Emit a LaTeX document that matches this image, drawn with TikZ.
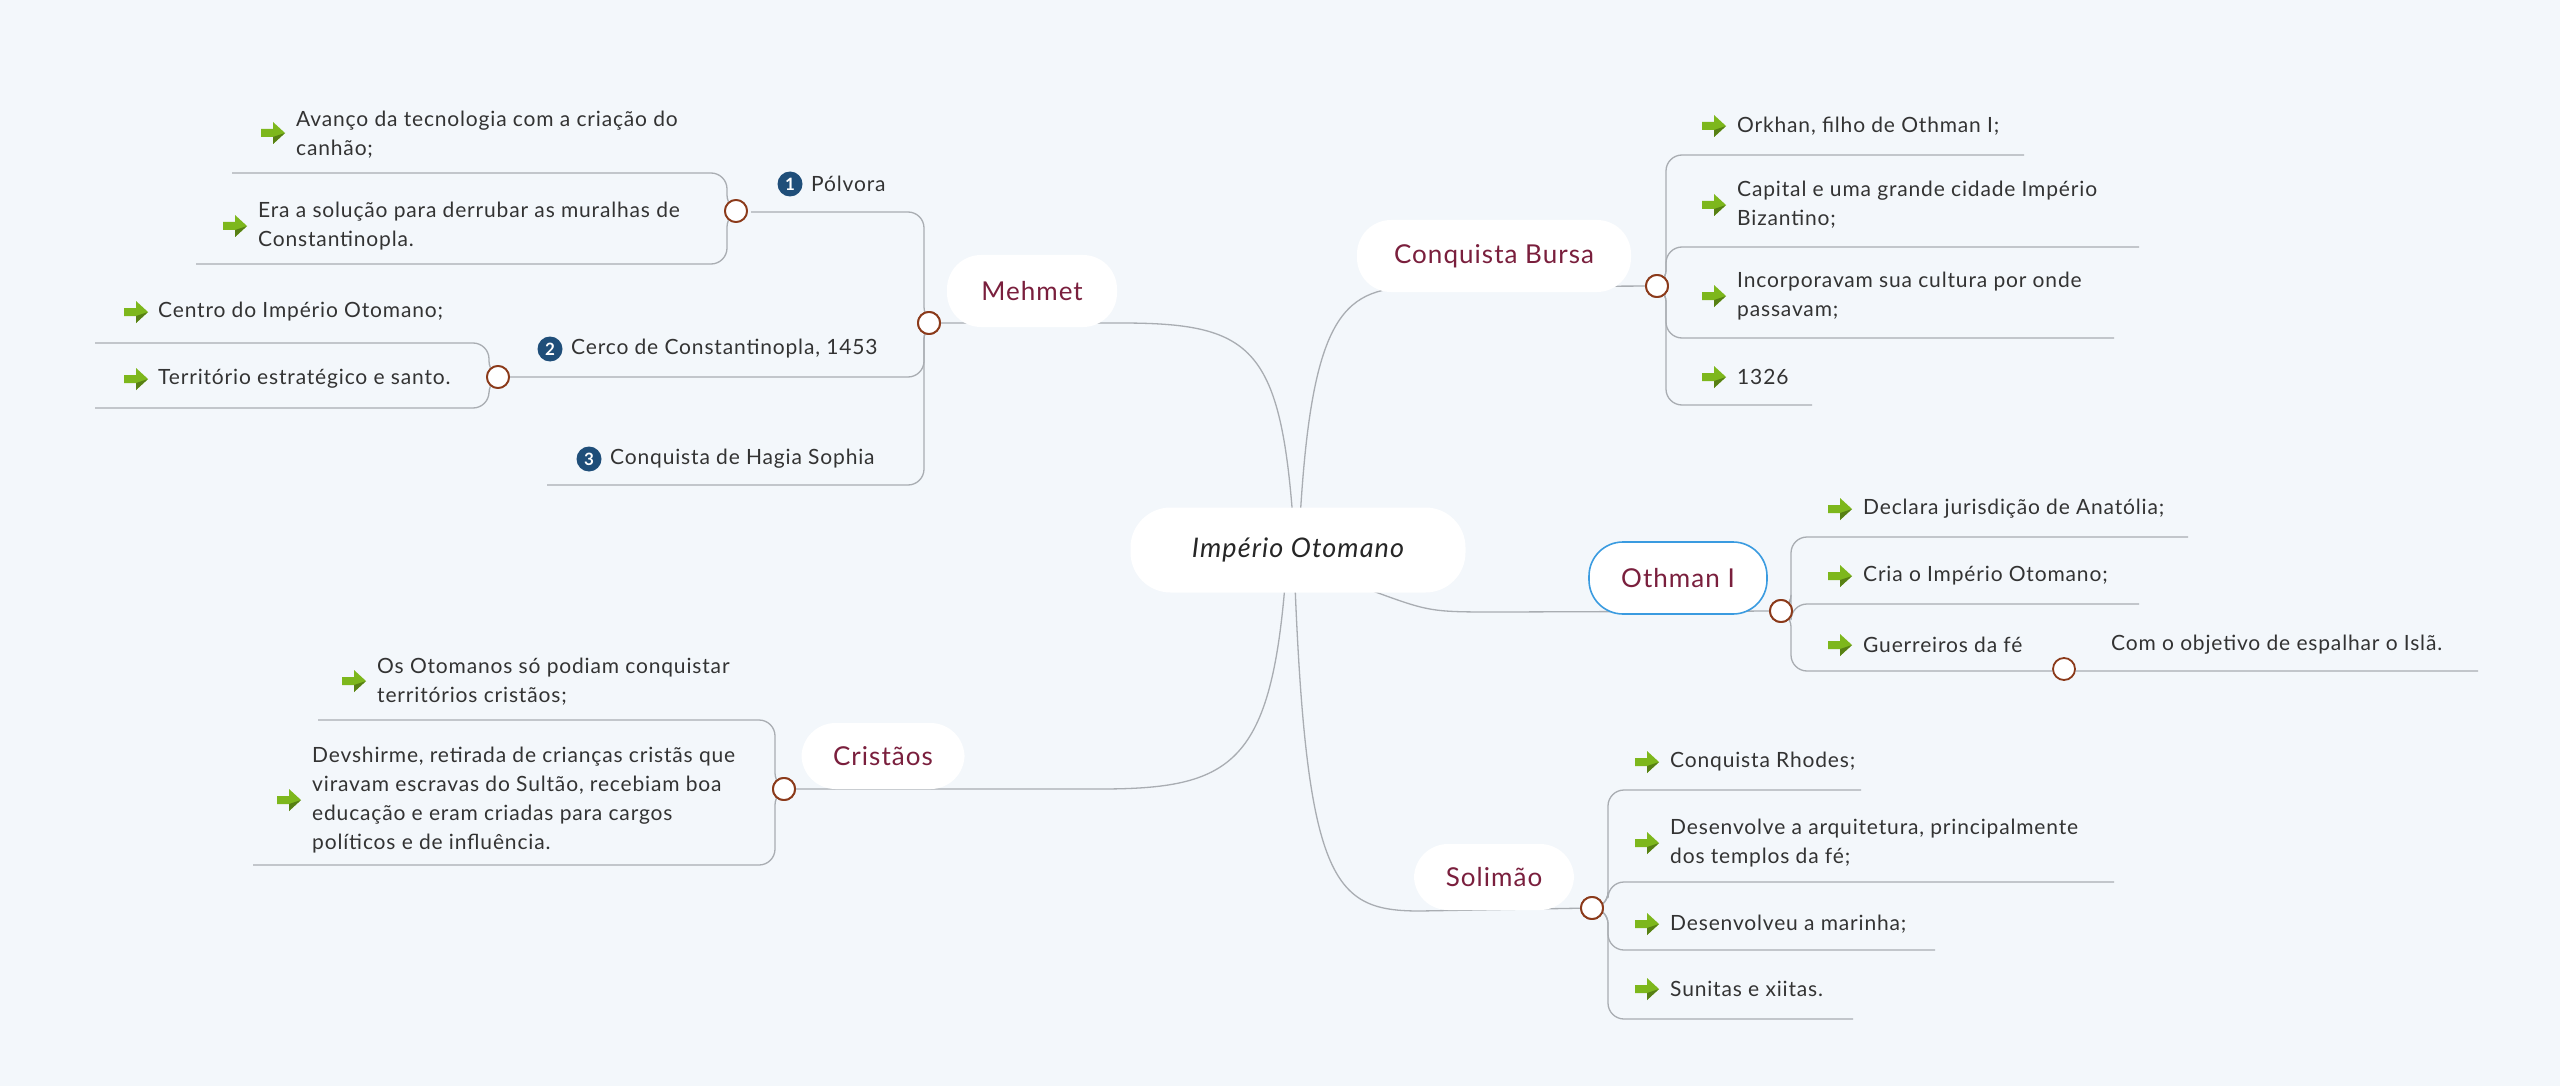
\documentclass[tikz,border=0pt]{standalone}
\usepackage{fontspec}
\setmainfont[LetterSpace=4]{Lato}
\definecolor{bg}{HTML}{F3F7FB}
\definecolor{ttl}{HTML}{7A1F3D}
\definecolor{txt}{HTML}{333333}
\definecolor{ln}{HTML}{A9ADB2}
\definecolor{circ}{HTML}{8B3A1A}
\definecolor{navy}{HTML}{1F4E79}
\definecolor{grn}{HTML}{7DB71C}
\definecolor{blu}{HTML}{3A9BE0}
\begin{document}
\begin{tikzpicture}[x=1pt,y=-1pt,
 box/.style={fill=white,rounded corners=34pt,minimum height=72pt,text=ttl,font=\fontsize{26}{30}\selectfont},
 leaf/.style={anchor=west,align=left,text=txt,font=\fontsize{21}{29}\selectfont,inner sep=0pt},
 knob/.style={circle,draw=circ,line width=1.8pt,fill=white,minimum size=22pt,inner sep=0pt},
 badge/.style={circle,fill=navy,text=white,minimum size=25pt,inner sep=0pt,font=\fontsize{17}{17}\selectfont\bfseries},
 br/.style={draw=ln,line width=1.3pt,rounded corners=16pt},
 cn/.style={draw=ln,line width=1.3pt},
 garrow/.pic={\fill[grn] (-12,-4) -- (0,-4) -- (0,-11) -- (12,0) -- (0,11) -- (0,4) -- (-12,4) -- cycle;
   \fill[grn!70!black] (0,4) -- (12,0) -- (0,11) -- cycle;}]
\fill[bg] (0,0) rectangle (2560,1086);
\useasboundingbox (0,0) rectangle (2560,1086);

% main connectors
\coordinate (mc0) at (1120,323);
\coordinate (cc0) at (1100,789);
\coordinate (bc0) at (1420,287);
\coordinate (oc0) at (1500,612);
\coordinate (sc0) at (1420,911);
\node[knob] (mk) at (929,323) {};
\node[knob] (ck) at (784,789) {};
\node[knob] (bk) at (1657,286) {};
\node[knob] (ok) at (1781,611) {};
\node[knob] (sk) at (1592,908) {};
\draw[cn] (1293,520) .. controls (1280,345) and (1250,323) .. (mc0) -- (mk);
\draw[cn] (1285,585) .. controls (1270,765) and (1230,789) .. (cc0) -- (ck);
\draw[cn] (1300,520) .. controls (1312,310) and (1345,287) .. (bc0) -- (bk);
\draw[cn] (1370,590) .. controls (1430,612) .. (oc0) -- (ok);
\draw[cn] (1295,585) .. controls (1307,885) and (1335,911) .. (sc0) -- (sk);

% Mehmet tree
\draw[br] (mk.center) -- (924,323) -- (924,212) -- (751,212);
\draw[br] (mk.center) -- (924,323) -- (924,377) -- (498,377);
\draw[br] (mk.center) -- (924,323) -- (924,485) -- (547,485);
\node[knob] (pk) at (736,211) {};
\draw[br] (pk.center) -- (727,211) -- (727,173) -- (232,173);
\draw[br] (pk.center) -- (727,211) -- (727,264) -- (196,264);
\node[knob] (ek) at (498,377) {};
\draw[br] (ek.center) -- (489,377) -- (489,343) -- (95,343);
\draw[br] (ek.center) -- (489,377) -- (489,408) -- (95,408);
\foreach \k in {mk,pk,ek} \node[knob] at (\k) {};
\node[badge] (b1) at (790,184) {1};
\node[leaf] (pol) at (811,184) {Pólvora};
\node[badge] (b2) at (550,349) {2};
\node[leaf] (cer) at (571,349) {Cerco de Constantinopla, 1453};
\node[badge] (b3) at (589,459) {3};
\node[leaf] (hag) at (610,459) {Conquista de Hagia Sophia};
\pic at (273,133) {garrow};
\node[leaf] (av) at (296,135) {Avanço da tecnologia com a criação do\\canhão;};
\pic at (235,226) {garrow};
\node[leaf] (era) at (258,226) {Era a solução para derrubar as muralhas de\\Constantinopla.};
\pic at (136,312) {garrow};
\node[leaf] (cen1) at (158,312) {Centro do Império Otomano;};
\pic at (136,379) {garrow};
\node[leaf] (ter) at (158,379) {Território estratégico e santo.};

% Cristãos tree
\draw[br] (ck.center) -- (775,789) -- (775,720) -- (318,720);
\draw[br] (ck.center) -- (775,789) -- (775,865) -- (253,865);
\node[knob] at (ck) {};
\pic at (354,681) {garrow};
\node[leaf] (os) at (377,682) {Os Otomanos só podiam conquistar\\territórios cristãos;};
\pic at (289,800) {garrow};
\node[leaf] (dev) at (312,800) {Devshirme, retirada de crianças cristãs que\\viravam escravas do Sultão, recebiam boa\\educação e eram criadas para cargos\\políticos e de influência.};

% Bursa tree
\draw[br] (bk.center) -- (1666,286) -- (1666,155) -- (2024,155);
\draw[br] (bk.center) -- (1666,286) -- (1666,247) -- (2139,247);
\draw[br] (bk.center) -- (1666,286) -- (1666,338) -- (2114,338);
\draw[br] (bk.center) -- (1666,286) -- (1666,405) -- (1812,405);
\node[knob] at (bk) {};
\pic at (1714,126) {garrow};
\node[leaf] (ork) at (1737,126) {Orkhan, filho de Othman I;};
\pic at (1714,205) {garrow};
\node[leaf] (cap) at (1737,205) {Capital e uma grande cidade Império\\Bizantino;};
\pic at (1714,296) {garrow};
\node[leaf] (inc) at (1737,296) {Incorporavam sua cultura por onde\\passavam;};
\pic at (1714,377) {garrow};
\node[leaf] (y26) at (1737,377) {1326};

% Othman tree
\draw[br] (ok.center) -- (1791,611) -- (1791,537) -- (2188,537);
\draw[br] (ok.center) -- (1791,611) -- (1791,604) -- (2139,604);
\draw[br] (ok.center) -- (1791,611) -- (1791,671) -- (2478,671);
\node[knob] at (ok) {};
\node[knob] (gk) at (2064,669) {};
\pic at (1840,509) {garrow};
\node[leaf] (dec) at (1863,509) {Declara jurisdição de Anatólia;};
\pic at (1840,576) {garrow};
\node[leaf] (cri) at (1863,576) {Cria o Império Otomano;};
\pic at (1840,645) {garrow};
\node[leaf] (gue) at (1863,645) {Guerreiros da fé};
\node[leaf] (com) at (2111,645) {Com o objetivo de espalhar o Islã.};

% Solimão tree
\draw[br] (sk.center) -- (1608,908) -- (1608,790) -- (1861,790);
\draw[br] (sk.center) -- (1608,908) -- (1608,882) -- (2114,882);
\draw[br] (sk.center) -- (1608,908) -- (1608,950) -- (1935,950);
\draw[br] (sk.center) -- (1608,908) -- (1608,1019) -- (1853,1019);
\node[knob] at (sk) {};
\pic at (1647,762) {garrow};
\node[leaf] (rho) at (1670,762) {Conquista Rhodes;};
\pic at (1647,843) {garrow};
\node[leaf] (arq) at (1670,843) {Desenvolve a arquitetura, principalmente\\dos templos da fé;};
\pic at (1647,924) {garrow};
\node[leaf] (mar) at (1670,924) {Desenvolveu a marinha;};
\pic at (1647,989) {garrow};
\node[leaf] (sun) at (1670,989) {Sunitas e xiitas.};

% main boxes
\node[box,minimum width=335pt,minimum height=85pt,rounded corners=40pt,text=black!85,font=\fontsize{27}{30}\selectfont\itshape] (imp) at (1298,550) {Império Otomano};
\node[box,minimum width=170pt] (meh) at (1032,291) {Mehmet};
\node[box,minimum width=163pt,minimum height=66pt] (cri2) at (883,756) {Cristãos};
\node[box,minimum width=274pt] (bur) at (1494,256) {Conquista Bursa};
\node[box,minimum width=178pt,draw=blu,line width=1.6pt] (oth) at (1678,578) {Othman I};
\node[box,minimum width=160pt,minimum height=66pt] (sol) at (1494,877) {Solimão};
\node[knob] at (mk) {};
\node[knob] at (ck) {};
\node[knob] at (bk) {};
\node[knob] at (ok) {};
\node[knob] at (sk) {};
\end{tikzpicture}
\end{document}
